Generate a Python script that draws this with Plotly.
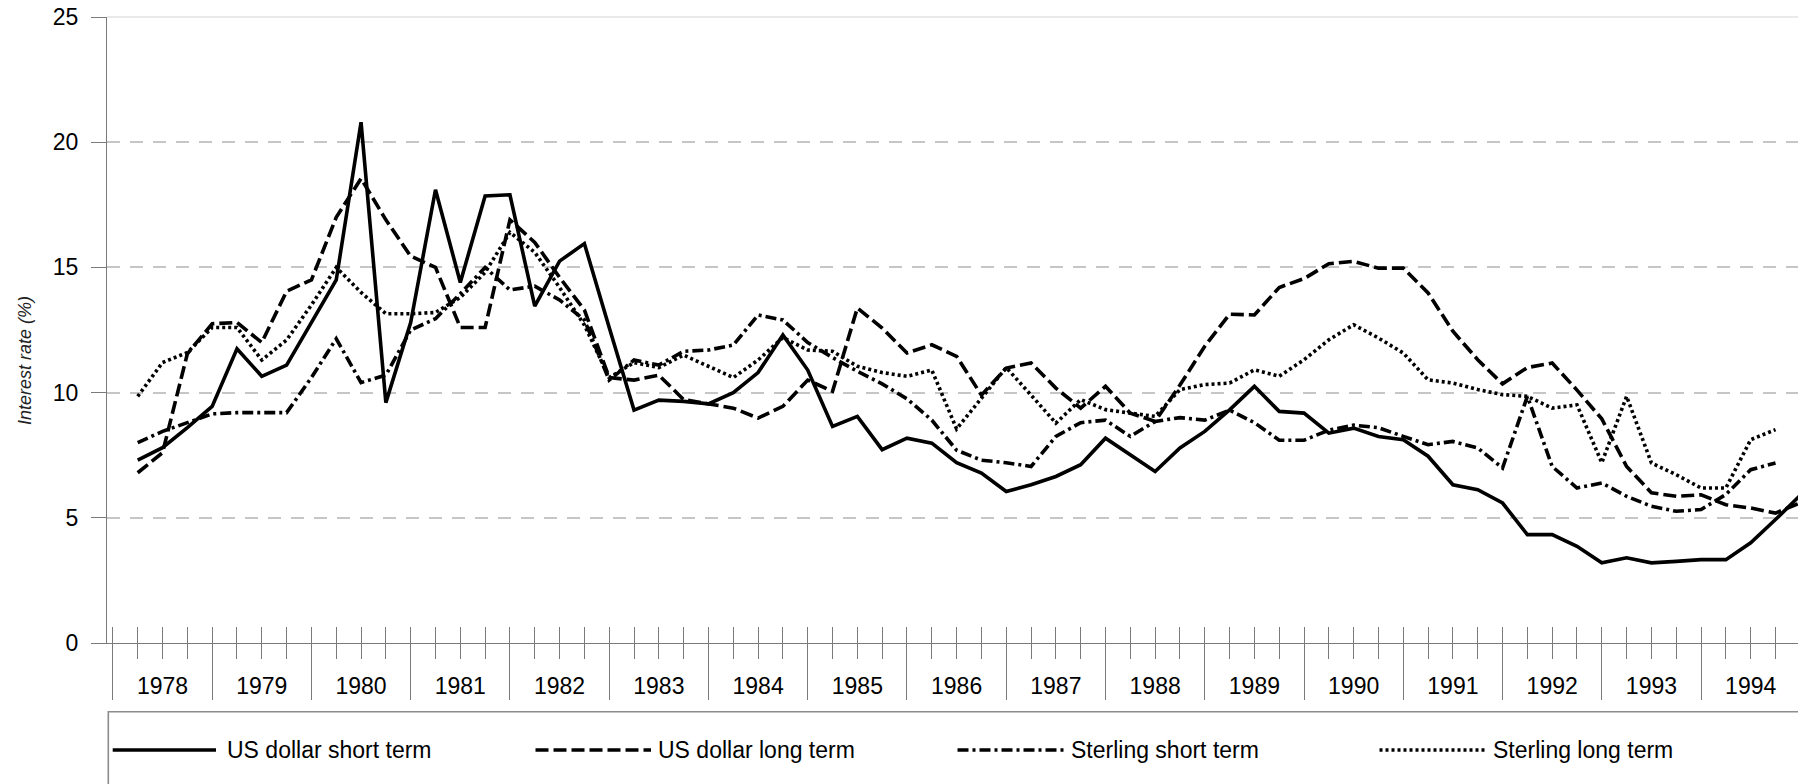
import plotly.graph_objects as go

# ---------------- data (quarterly) ----------------
years = [1978, 1979, 1980, 1981, 1982, 1983, 1984, 1985, 1986,
         1987, 1988, 1989, 1990, 1991, 1992, 1993, 1994]
year_labels = [str(y) for y in years]

us_short = [7.3, 7.8, 8.6, 9.45, 11.75, 10.65, 11.1, 12.8, 14.5, 20.8,
            9.6, 12.8, 18.1, 14.4, 17.85, 17.9, 13.45, 15.25, 15.95, 12.6,
            9.3, 9.7, 9.65, 9.55, 10.0, 10.8, 12.3, 10.9, 8.65, 9.05,
            7.72, 8.18, 7.98, 7.2, 6.79, 6.05, 6.32, 6.65, 7.12, 8.18,
            7.52, 6.85, 7.79, 8.45, 9.31, 10.25, 9.25, 9.18, 8.38, 8.58,
            8.25, 8.12, 7.46, 6.32, 6.12, 5.59, 4.33, 4.33, 3.86, 3.2,
            3.4, 3.2, 3.26, 3.33, 3.33, 4.0, 4.93, 5.9]

# long-dashed line in the picture
us_long = [6.8, 7.6, 11.55, 12.75, 12.8, 12.0, 14.05, 14.5, 17.0, 18.55,
           16.9, 15.45, 15.0, 12.6, 12.6, 16.9, 16.0, 14.6, 13.3, 10.6,
           10.5, 10.7, 9.72, 9.55, 9.38, 8.98, 9.45, 10.5, 10.05, 13.38,
           12.58, 11.58, 11.91, 11.45, 9.9, 10.98, 11.18, 10.18, 9.38, 10.25,
           9.18, 8.85, 10.3, 11.85, 13.13, 13.1, 14.2, 14.55, 15.15, 15.24,
           14.97, 14.97, 13.98, 12.45, 11.31, 10.35, 11.0, 11.18, 10.1, 8.95,
           7.05, 6.0, 5.86, 5.92, 5.52, 5.39, 5.19, 5.6]

# dash-dot line in the picture
stg_short = [8.0, 8.45, 8.8, 9.15, 9.2, 9.2, 9.2, 10.6, 12.15, 10.4,
             10.7, 12.5, 12.95, 13.95, 15.0, 14.1, 14.25, 13.7, 12.9, 10.5,
             11.3, 11.1, 11.65, 11.7, 11.9, 13.1, 12.9, 12.0, 11.4, 10.85,
             10.35, 9.75, 8.9, 7.7, 7.3, 7.2, 7.05, 8.25, 8.8, 8.9,
             8.25, 8.85, 9.0, 8.9, 9.3, 8.8, 8.1, 8.1, 8.5, 8.7,
             8.6, 8.25, 7.92, 8.05, 7.79, 6.99, 9.85, 7.05, 6.19, 6.39,
             5.86, 5.46, 5.26, 5.33, 5.93, 6.92, 7.19]

stg_long = [9.85, 11.2, 11.6, 12.6, 12.6, 11.3, 12.1, 13.5, 15.0, 14.0,
            13.15, 13.15, 13.2, 13.8, 14.8, 16.4, 15.6, 14.2, 12.7, 10.6,
            11.2, 11.0, 11.5, 11.05, 10.6, 11.3, 12.2, 11.7, 11.65, 11.05,
            10.8, 10.65, 10.9, 8.55, 9.75, 11.0, 9.9, 8.78, 9.72, 9.32,
            9.18, 9.05, 10.12, 10.32, 10.38, 10.91, 10.65, 11.31, 12.11, 12.71,
            12.18, 11.58, 10.51, 10.38, 10.12, 9.92, 9.85, 9.38, 9.51, 7.2,
            9.85, 7.19, 6.72, 6.19, 6.19, 8.12, 8.52]

series_names = ["US dollar short term", "US dollar long term",
                "Sterling short term", "Sterling long term"]
series_values = [us_short, us_long, stg_short, stg_long]

# ---------------- geometry ----------------
W, H = 1798, 784
M_L, M_R, M_T, M_B = 107, 0, 17, 141
PW = W - M_L - M_R
PH = H - M_T - M_B
Q_PX = 24.815          # pixels per quarter
X0_PX = 112.9          # pixel of the start of 1978
x_lo = (M_L - X0_PX) / Q_PX
x_hi = x_lo + PW / Q_PX

def px_x(p):
    return (p - M_L) / PW

def px_y(p):
    return (H - M_B - p) / PH

n_q = 4 * len(years)
quarter_bounds = list(range(0, n_q + 1))
year_bounds = list(range(0, n_q + 1, 4))
year_centers = [b + 2 for b in year_bounds[:-1]]

dashes = ["solid", "13px,5px", "11px,4px,3px,4px", "3px,3px"]
axes_for = ["x", "x", "x3", "x2"]

GREY = "#7a7a7a"
FONT = "Liberation Sans, Arial, Helvetica, sans-serif"

fig = go.Figure()
for name, vals, dash, xa in zip(series_names, series_values, dashes, axes_for):
    fig.add_trace(go.Scatter(
        x=list(range(1, len(vals) + 1)), y=vals, name=name, mode="lines",
        line=dict(color="black", width=3.6, dash=dash),
        xaxis=xa, yaxis="y", showlegend=False, hoverinfo="x+y+name"))

common_x = dict(range=[x_lo, x_hi], showgrid=False, zeroline=False, fixedrange=True)

fig.update_layout(
    width=W, height=H,
    margin=dict(l=M_L, r=M_R, t=M_T, b=M_B, pad=0),
    paper_bgcolor="white", plot_bgcolor="white",
    font=dict(family=FONT, color="black", size=22),
    showlegend=False,
    xaxis=dict(**common_x, showline=True, linecolor=GREY, linewidth=1.3,
               tickmode="array", tickvals=year_bounds, ticks="outside",
               ticklen=56, tickwidth=1.3, tickcolor=GREY, showticklabels=False,
               minor=dict(tickmode="linear", tick0=0, dtick=1, ticks="outside",
                          ticklen=15, tickwidth=1.3, tickcolor=GREY, showgrid=False)),
    xaxis2=dict(**common_x, overlaying="x", anchor="y", side="bottom",
                showline=False, tickmode="array", tickvals=quarter_bounds,
                ticks="inside", ticklen=16, tickwidth=1.3, tickcolor=GREY,
                showticklabels=False),
    xaxis3=dict(**common_x, overlaying="x", anchor="y", side="bottom",
                showline=False, tickmode="array", tickvals=year_centers,
                ticktext=year_labels, ticks="", ticklabelstandoff=27,
                tickfont=dict(size=23, color="black", family=FONT)),
    yaxis=dict(range=[0, 25], tickmode="array", tickvals=[0, 5, 10, 15, 20, 25],
               showline=True, linecolor=GREY, linewidth=1.3,
               ticks="outside", ticklen=15, tickwidth=1.3, tickcolor=GREY,
               showgrid=True, gridcolor="#c6c6c6", gridwidth=2, griddash="13px,10px",
               zeroline=False, fixedrange=True, ticklabelstandoff=8,
               tickfont=dict(size=23, color="black", family=FONT)),
)

# y-axis title
fig.add_annotation(text="Interest rate (%)", xref="paper", yref="paper",
                   x=px_x(25), y=px_y(361), textangle=-90, showarrow=False,
                   xanchor="center", yanchor="middle",
                   font=dict(size=18, color="#222222", family=FONT, style="italic"))

# top border line at 25
fig.add_shape(type="line", xref="paper", yref="paper", x0=0, x1=1, y0=1, y1=1,
              line=dict(color="#d4d4d4", width=1), layer="below")

# legend box (drawn manually to match the long sample lines)
fig.add_shape(type="rect", xref="paper", yref="paper",
              x0=px_x(108.3), x1=px_x(1900), y0=px_y(711.7), y1=px_y(820),
              line=dict(color="#8c8c8c", width=1.6), fillcolor="rgba(0,0,0,0)")

leg_lines = [(112.7, 216.0), (535.5, 651.0), (957.5, 1066.0), (1379.5, 1485.0)]
leg_text_x = [225, 656, 1069, 1491]
leg_y = 750
for name, dash, (a, b), tx in zip(series_names, dashes, leg_lines, leg_text_x):
    fig.add_shape(type="line", xref="paper", yref="paper",
                  x0=px_x(a), x1=px_x(b), y0=px_y(leg_y), y1=px_y(leg_y),
                  line=dict(color="black", width=3.6, dash=dash))
    fig.add_annotation(text=name, xref="paper", yref="paper",
                       x=px_x(tx), y=px_y(leg_y), showarrow=False,
                       xanchor="left", yanchor="middle",
                       font=dict(size=23, color="black", family=FONT))

fig.write_html(
    "out.html",
    config={"displayModeBar": False},
    post_script="document.body.style.margin='0';document.body.style.overflow='hidden';",
)
